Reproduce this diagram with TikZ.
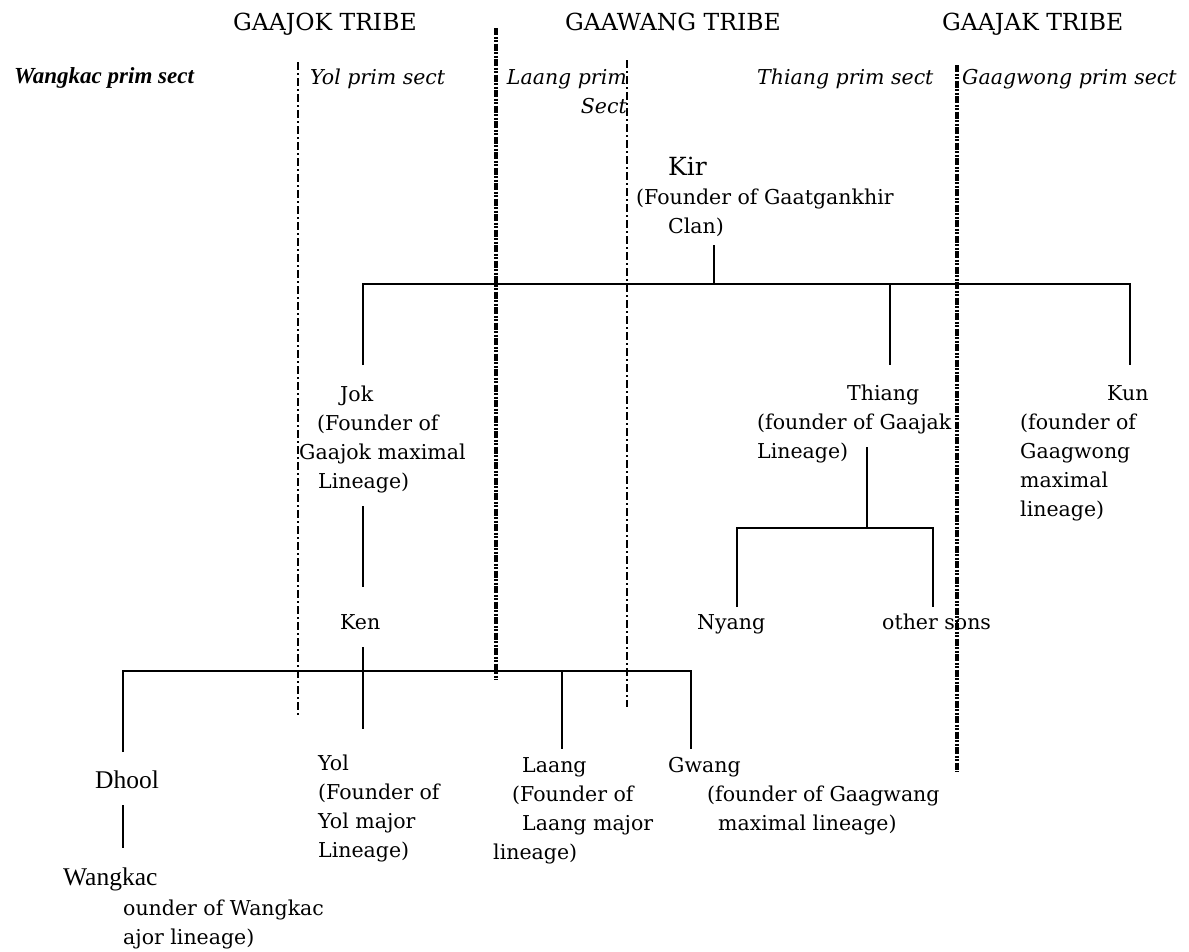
\documentclass[tikz,border=0pt]{standalone}
\usepackage{fontspec}
\setmainfont{DejaVu Serif}
\newfontfamily\tmsfont{Liberation Serif}
\begin{document}
\begin{tikzpicture}[x=1pt, y=-1pt]
    \tikzstyle{tline}=[line width=1.3pt]
    \tikzstyle{thinsep}=[line width=1.3pt, dash pattern=on 8pt off 3pt on 2pt off 3pt]
    \tikzstyle{thicksep}=[line width=3.2pt, dash pattern=on 7pt off 1.5pt on 2pt off 1.5pt on 2pt off 1.5pt]
    \tikzstyle{tribe}=[anchor=base west, inner sep=0pt, font=\fontsize{23.5}{29}\selectfont]
    \tikzstyle{sect}=[anchor=base west, inner sep=0pt, font=\itshape\fontsize{20.5}{29}\selectfont]
    \tikzstyle{pnode}=[anchor=north west, inner sep=0pt, align=left, font=\fontsize{20.5}{29}\selectfont]
    \tikzstyle{tmsnode}=[anchor=north west, inner sep=0pt, font=\tmsfont\fontsize{25.5}{29}\selectfont]
    \def\indt#1{\hspace*{#1pt}}

    \useasboundingbox (0,0) rectangle (1189,951);

    \node[tribe] (gaajok) at (233,30) {GAAJOK TRIBE};
    \node[tribe] (gaawang) at (565,30) {GAAWANG TRIBE};
    \node[tribe] (gaajak) at (942,30) {GAAJAK TRIBE};

    \node[sect, font=\tmsfont\bfseries\itshape\fontsize{23}{29}\selectfont] (wangsect) at (14,83) {Wangkac prim sect};
    \node[sect] (yolsect) at (310,84) {Yol prim sect};
    \node[sect, anchor=north east, align=right] (laangsect) at (627,64) {\strut Laang prim\\Sect};
    \node[sect] (thiangsect) at (757,84) {Thiang prim sect};
    \node[sect] (gaagsect) at (962,84) {Gaagwong prim sect};

    \node[pnode] (kir) at (636,155) {\strut\indt{32}{\fontsize{25}{29}\selectfont Kir}\\(Founder of Gaatgankhir\\\indt{32}Clan)};
    \node[pnode] (jok) at (299,381) {\strut\indt{41}Jok\\\indt{18}(Founder of\\Gaajok maximal\\\indt{19}Lineage)};
    \node[pnode] (thiang) at (757,380) {\strut\indt{90}Thiang\\(founder of Gaajak\\Lineage)};
    \node[pnode] (kun) at (1020,380) {\strut\indt{87}Kun\\(founder of\\Gaagwong\\maximal\\lineage)};
    \node[pnode] (ken) at (340,609) {\strut Ken};
    \node[pnode] (nyang) at (697,609) {\strut Nyang};
    \node[pnode] (othersons) at (882,609) {\strut other sons};
    \node[pnode] (yol) at (318,750) {\strut Yol\\(Founder of\\Yol major\\Lineage)};
    \node[pnode] (laang) at (493,752) {\strut\indt{29}Laang\\\indt{19}(Founder of\\\indt{29}Laang major\\lineage)};
    \node[pnode] (gwang) at (668,752) {\strut Gwang\\\indt{39}(founder of Gaagwang\\\indt{50}maximal lineage)};
    \node[tmsnode] (dhool) at (95,768) {\strut Dhool};
    \node[tmsnode] (wangkac) at (63,865) {\strut Wangkac};
    \node[pnode] (wangkacnote) at (123,895) {\strut ounder of Wangkac\\ajor lineage)};

    \coordinate (kirfoot) at (714,245);
    \coordinate (kirjoin) at (714,284);
    \coordinate (jokhead) at (363,365);
    \coordinate (thianghead) at (890,365);
    \coordinate (kunhead) at (1130,365);
    \draw[tline] (kirfoot) -- (kirjoin);
    \draw[tline] (jokhead) -- (jokhead |- kirjoin) -- (kunhead |- kirjoin) -- (kunhead);
    \draw[tline] (thianghead |- kirjoin) -- (thianghead);

    \coordinate (jokfoot) at (363,506);
    \coordinate (kenhead) at (363,587);
    \draw[tline] (jokfoot) -- (kenhead);

    \coordinate (kenfoot) at (363,647);
    \coordinate (kenjoin) at (363,671);
    \coordinate (yolhead) at (363,729);
    \coordinate (dhoolhead) at (123,752);
    \coordinate (laanghead) at (562,749);
    \coordinate (gwanghead) at (691,749);
    \draw[tline] (kenfoot) -- (yolhead);
    \draw[tline] (dhoolhead) -- (dhoolhead |- kenjoin) -- (gwanghead |- kenjoin) -- (gwanghead);
    \draw[tline] (laanghead |- kenjoin) -- (laanghead);
    \coordinate (dhoolfoot) at (123,805);
    \coordinate (wangkachead) at (123,848);
    \draw[tline] (dhoolfoot) -- (wangkachead);

    \coordinate (thiangfoot) at (867,447);
    \coordinate (thiangjoin) at (867,528);
    \coordinate (nyanghead) at (737,607);
    \coordinate (sonshead) at (933,607);
    \draw[tline] (thiangfoot) -- (thiangjoin);
    \draw[tline] (nyanghead) -- (nyanghead |- thiangjoin) -- (sonshead |- thiangjoin) -- (sonshead);

    \draw[thinsep] (298,62) -- (298,715);
    \draw[thicksep] (496,28) -- (496,680);
    \draw[thinsep] (627,60) -- (627,707);
    \draw[thicksep] (957,65) -- (957,772);
\end{tikzpicture}
\end{document}
